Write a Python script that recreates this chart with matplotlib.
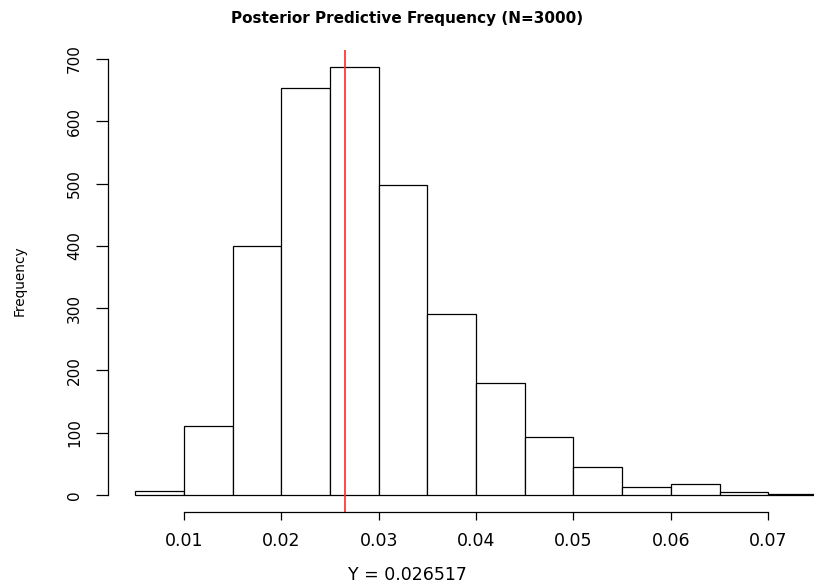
import matplotlib
matplotlib.use("Agg")
import matplotlib.pyplot as plt
import numpy as np

plt.rcParams['font.family'] = ['DejaVu Sans']

bin_edges = [0.005, 0.010, 0.015, 0.020, 0.025, 0.030, 0.035, 0.040,
             0.045, 0.050, 0.055, 0.060, 0.065, 0.070, 0.075]
counts = [7, 110, 400, 654, 687, 498, 290, 180, 93, 45, 13, 17, 5, 1]
observed = 0.026517
x_ticks = [0.01, 0.02, 0.03, 0.04, 0.05, 0.06, 0.07]
x_tick_labels = ["0.01", "0.02", "0.03", "0.04", "0.05", "0.06", "0.07"]
y_ticks = [0, 100, 200, 300, 400, 500, 600, 700]
title = "Posterior Predictive Frequency (N=3000)"
xlabel = "Y = 0.026517"
ylabel = "Frequency"

W, H = 814, 585
fig = plt.figure(figsize=(W / 100, H / 100), dpi=100)
left_px, right_px, top_px, bottom_px = 108, 814, 50, 512
ax = fig.add_axes([left_px / W, 1 - bottom_px / H,
                   (right_px - left_px) / W, (bottom_px - top_px) / H])

edges = np.array(bin_edges)
widths = np.diff(edges)
ax.bar(edges[:-1], counts, width=widths, align='edge', facecolor='white',
       edgecolor='black', linewidth=0.9)
ax.axvline(observed, color='#ff2a2a', linewidth=1.2)

ax.set_xlim(0.0022, 0.0747)
ax.set_ylim(-27.5, 714.5)

for s in ['top', 'right']:
    ax.spines[s].set_visible(False)
ax.spines['left'].set_bounds(0, 700)
ax.spines['bottom'].set_bounds(0.01, 0.07)
for s in ['left', 'bottom']:
    ax.spines[s].set_linewidth(0.9)

ax.set_xticks(x_ticks)
ax.set_xticklabels(x_tick_labels)
ax.set_yticks(y_ticks)
ax.set_yticklabels([str(v) for v in y_ticks], rotation=90, va='center')
ax.tick_params(axis='both', direction='out', width=0.9, colors='black')
ax.tick_params(axis='x', length=5.5, pad=9, labelsize=12.5)
ax.tick_params(axis='y', length=8.6, pad=10, labelsize=11)

fig.text(407 / W, 1 - 575 / H, xlabel, ha='center', va='center', fontsize=12.5)
fig.text(20 / W, 1 - 281 / H, ylabel, ha='center', va='center', fontsize=9.8,
         rotation=90)
fig.text(407 / W, 1 - 19 / H, title, ha='center', va='center',
         fontsize=11, fontweight='bold')

fig.savefig("out.png", dpi=100)
